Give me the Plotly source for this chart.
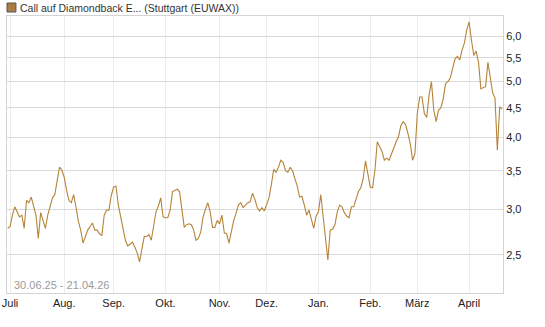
import numpy as np
import pandas as pd
import plotly.graph_objects as go

# ---- data ----
title_text = "Call auf Diamondback E... (Stuttgart (EUWAX))"
range_text = "30.06.25 - 21.04.26"
start_date = "2025-06-30"
end_date = "2026-04-21"
holidays = ["2025-12-25"]
month_labels = ["Juli", "Aug.", "Sep.", "Okt.", "Nov.", "Dez.", "Jan.", "Feb.", "März", "April"]
y_ticks = [2.5, 3.0, 3.5, 4.0, 4.5, 5.0, 5.5, 6.0]
prices = [
    2.78, 2.80, 2.93, 3.03, 2.97, 2.91, 2.93, 2.78, 3.11, 3.08,
    3.15, 3.05, 2.93, 2.67, 2.96, 2.87, 2.78, 2.93, 3.05, 3.14,
    3.18, 3.37, 3.55, 3.51, 3.41, 3.24, 3.11, 3.08, 3.18, 3.03,
    2.86, 2.76, 2.62, 2.69, 2.76, 2.80, 2.84, 2.76, 2.76, 2.72,
    2.70, 2.93, 2.99, 2.99, 3.17, 3.28, 3.29, 3.05, 2.90, 2.80,
    2.65, 2.59, 2.61, 2.63, 2.58, 2.52, 2.43, 2.58, 2.69, 2.69,
    2.71, 2.65, 2.80, 2.97, 3.04, 3.14, 2.91, 2.90, 2.90, 2.99,
    3.22, 3.24, 3.25, 3.22, 2.97, 2.79, 2.82, 2.83, 2.82, 2.76,
    2.65, 2.67, 2.74, 2.91, 3.00, 3.08, 2.97, 2.79, 2.79, 2.87,
    2.83, 2.93, 2.73, 2.72, 2.62, 2.73, 2.87, 2.95, 3.05, 3.08,
    3.02, 3.05, 3.08, 3.09, 3.20, 3.12, 3.02, 2.98, 3.02, 2.98,
    3.06, 3.14, 3.31, 3.52, 3.48, 3.55, 3.65, 3.62, 3.50, 3.48,
    3.55, 3.50, 3.39, 3.29, 3.15, 3.16, 3.05, 2.93, 2.99, 2.87,
    2.78, 2.92, 2.97, 3.18, 2.91, 2.67, 2.45, 2.76, 2.77, 2.82,
    2.97, 3.05, 3.03, 2.96, 2.92, 2.90, 3.03, 3.03, 3.11, 3.22,
    3.27, 3.39, 3.64, 3.48, 3.28, 3.27, 3.51, 3.93, 3.84, 3.78,
    3.65, 3.68, 3.65, 3.75, 3.86, 3.93, 4.01, 4.19, 4.26, 4.21,
    4.07, 3.90, 3.65, 3.75, 4.40, 4.70, 4.70, 4.40, 4.33, 4.74,
    5.00, 4.46, 4.26, 4.46, 4.50, 4.66, 4.96, 5.00, 5.07, 5.24,
    5.47, 5.53, 5.45, 5.67, 5.83, 6.15, 6.35, 5.90, 5.55, 5.65,
    5.40, 4.86, 4.88, 4.90, 5.40, 5.07, 4.78, 4.68, 3.80, 4.52,
    4.48,
]

# ---- build x positions (trading-day index) ----
dates = pd.bdate_range(start_date, end_date)
dates = dates[~dates.isin(pd.to_datetime(holidays))]
dates = dates[: len(prices)]
x_idx = np.arange(len(prices))
month_key = dates.to_period("M")
months = month_key.unique()
first_idx = [int(np.argmax(month_key == m)) for m in months]
# first month (June) contains only the start day -> skip it
tick_pos = [i for i, m in zip(first_idx, months) if m.month != 6]

line_color = "#b5843a"
font_family = "Arial, 'Liberation Sans', sans-serif"

plot_w = 545 - 2 - 42
plot_h = 327 - 16 - 34

fig = go.Figure()
fig.add_trace(go.Scatter(
    x=x_idx, y=prices, mode="lines",
    line=dict(color=line_color, width=1.1),
    hoverinfo="skip", showlegend=False,
))

fig.update_layout(
    width=545, height=327,
    margin=dict(l=2, r=42, t=16, b=34),
    paper_bgcolor="white", plot_bgcolor="white",
    separators=",.",
    font=dict(family=font_family, size=11, color="#333333"),
    xaxis=dict(
        range=[-0.3, len(prices) - 0.6],
        tickvals=tick_pos, ticktext=month_labels[: len(tick_pos)],
        ticklabeloverflow="allow",
        showgrid=True, gridcolor="#ececec", gridwidth=1,
        showline=True, linecolor="#d4d4d4", linewidth=1, mirror=True,
        ticks="", zeroline=False, tickfont=dict(size=11, color="#222222"),
    ),
    yaxis=dict(
        type="log", side="right",
        range=[np.log10(2.146), np.log10(6.5)],
        tickvals=y_ticks, tickformat=".1f",
        showgrid=True, gridcolor="#dadada", gridwidth=1,
        showline=True, linecolor="#d4d4d4", linewidth=1, mirror=True,
        ticks="", zeroline=False, tickfont=dict(size=11, color="#222222"),
    ),
    shapes=[dict(
        type="rect", xref="paper", yref="paper",
        x0=0.0, x1=9 / plot_w, y0=1 + 4 / plot_h, y1=1 + 13 / plot_h,
        fillcolor="#a97d44", line=dict(color="#555555", width=1),
    )],
    annotations=[
        dict(text=title_text, xref="paper", yref="paper", x=11 / plot_w, y=1 + 8.5 / plot_h,
             xanchor="left", yanchor="middle", showarrow=False,
             font=dict(size=10.5, color="#333333")),
        dict(text=range_text, xref="paper", yref="paper", x=0.01, y=0.0,
             xanchor="left", yanchor="bottom", showarrow=False,
             font=dict(size=11, color="#9a9a9a")),
    ],
)

fig.write_html("out.html")
